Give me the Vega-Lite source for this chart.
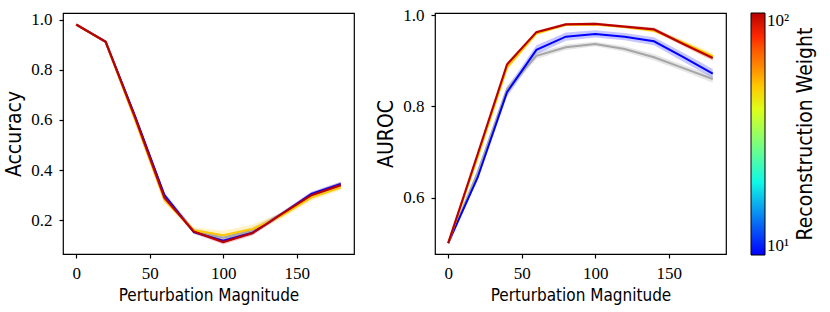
{
  "$schema": "https://vega.github.io/schema/vega-lite/v6.json",
  "padding": {"left": 3, "top": 5, "right": 5, "bottom": 5},
  "background": "white",
  "config": {
    "view": {"stroke": "black", "strokeWidth": 1.2},
    "axis": {"domain": false, "grid": false, "ticks": true, "tickColor": "black", "tickSize": 4, "tickWidth": 1.2,
      "labelColor": "black", "labelFont": "Liberation Serif", "labelFontSize": 17, "labelPadding": 7,
      "titleColor": "black", "titleFont": "DejaVu Sans Condensed", "titleFontSize": 17, "titleFontWeight": "normal"},
    "axisX": {"titlePadding": 6},
    "axisY": {"titlePadding": 6, "titleFontSize": 21},
    "legend": {"orient": "right", "offset": 24, "gradientLength": 242, "gradientThickness": 14,
      "gradientStrokeColor": "black", "gradientStrokeWidth": 1, "labelFont": "Liberation Serif", "labelFontSize": 17,
      "labelColor": "black", "labelOffset": 4, "titleFont": "DejaVu Sans Condensed", "titleFontSize": 21,
      "titleFontWeight": "normal", "titleColor": "black", "titleLimit": 320}
  },
  "datasets": {
    "acc": [
      {"s":"base","w":null,"x":0,"y":0.981,"lo":0.979,"hi":0.983},
      {"s":"base","w":null,"x":20,"y":0.912,"lo":0.909,"hi":0.915},
      {"s":"base","w":null,"x":40,"y":0.615,"lo":0.603,"hi":0.627},
      {"s":"base","w":null,"x":60,"y":0.300,"lo":0.288,"hi":0.312},
      {"s":"base","w":null,"x":80,"y":0.158,"lo":0.148,"hi":0.168},
      {"s":"base","w":null,"x":100,"y":0.130,"lo":0.118,"hi":0.142},
      {"s":"base","w":null,"x":120,"y":0.160,"lo":0.148,"hi":0.172},
      {"s":"base","w":null,"x":140,"y":0.225,"lo":0.215,"hi":0.235},
      {"s":"base","w":null,"x":160,"y":0.300,"lo":0.290,"hi":0.310},
      {"s":"base","w":null,"x":180,"y":0.340,"lo":0.330,"hi":0.350},
      {"s":"w10","w":10,"x":0,"y":0.981,"lo":0.979,"hi":0.983},
      {"s":"w10","w":10,"x":20,"y":0.912,"lo":0.909,"hi":0.915},
      {"s":"w10","w":10,"x":40,"y":0.615,"lo":0.607,"hi":0.623},
      {"s":"w10","w":10,"x":60,"y":0.300,"lo":0.292,"hi":0.308},
      {"s":"w10","w":10,"x":80,"y":0.152,"lo":0.146,"hi":0.158},
      {"s":"w10","w":10,"x":100,"y":0.118,"lo":0.110,"hi":0.126},
      {"s":"w10","w":10,"x":120,"y":0.150,"lo":0.142,"hi":0.158},
      {"s":"w10","w":10,"x":140,"y":0.225,"lo":0.217,"hi":0.233},
      {"s":"w10","w":10,"x":160,"y":0.305,"lo":0.297,"hi":0.313},
      {"s":"w10","w":10,"x":180,"y":0.345,"lo":0.337,"hi":0.353},
      {"s":"w50","w":50,"x":0,"y":0.981,"lo":0.979,"hi":0.983},
      {"s":"w50","w":50,"x":20,"y":0.912,"lo":0.909,"hi":0.915},
      {"s":"w50","w":50,"x":40,"y":0.600,"lo":0.590,"hi":0.610},
      {"s":"w50","w":50,"x":60,"y":0.280,"lo":0.270,"hi":0.290},
      {"s":"w50","w":50,"x":80,"y":0.160,"lo":0.148,"hi":0.172},
      {"s":"w50","w":50,"x":100,"y":0.140,"lo":0.122,"hi":0.158},
      {"s":"w50","w":50,"x":120,"y":0.165,"lo":0.147,"hi":0.183},
      {"s":"w50","w":50,"x":140,"y":0.218,"lo":0.206,"hi":0.230},
      {"s":"w50","w":50,"x":160,"y":0.290,"lo":0.278,"hi":0.302},
      {"s":"w50","w":50,"x":180,"y":0.330,"lo":0.320,"hi":0.340},
      {"s":"w100","w":100,"x":0,"y":0.981,"lo":0.979,"hi":0.983},
      {"s":"w100","w":100,"x":20,"y":0.912,"lo":0.909,"hi":0.915},
      {"s":"w100","w":100,"x":40,"y":0.610,"lo":0.602,"hi":0.618},
      {"s":"w100","w":100,"x":60,"y":0.290,"lo":0.282,"hi":0.298},
      {"s":"w100","w":100,"x":80,"y":0.155,"lo":0.147,"hi":0.163},
      {"s":"w100","w":100,"x":100,"y":0.113,"lo":0.103,"hi":0.123},
      {"s":"w100","w":100,"x":120,"y":0.149,"lo":0.139,"hi":0.159},
      {"s":"w100","w":100,"x":140,"y":0.225,"lo":0.217,"hi":0.233},
      {"s":"w100","w":100,"x":160,"y":0.300,"lo":0.290,"hi":0.310},
      {"s":"w100","w":100,"x":180,"y":0.340,"lo":0.328,"hi":0.352}
    ],
    "auc": [
      {"s":"base","w":null,"x":0,"y":0.500,"lo":0.499,"hi":0.501},
      {"s":"base","w":null,"x":20,"y":0.655,"lo":0.649,"hi":0.661},
      {"s":"base","w":null,"x":40,"y":0.838,"lo":0.830,"hi":0.846},
      {"s":"base","w":null,"x":60,"y":0.911,"lo":0.904,"hi":0.918},
      {"s":"base","w":null,"x":80,"y":0.930,"lo":0.924,"hi":0.936},
      {"s":"base","w":null,"x":100,"y":0.937,"lo":0.932,"hi":0.942},
      {"s":"base","w":null,"x":120,"y":0.926,"lo":0.920,"hi":0.932},
      {"s":"base","w":null,"x":140,"y":0.908,"lo":0.901,"hi":0.915},
      {"s":"base","w":null,"x":160,"y":0.884,"lo":0.877,"hi":0.891},
      {"s":"base","w":null,"x":180,"y":0.860,"lo":0.852,"hi":0.868},
      {"s":"w10","w":10,"x":0,"y":0.500,"lo":0.499,"hi":0.501},
      {"s":"w10","w":10,"x":20,"y":0.644,"lo":0.638,"hi":0.650},
      {"s":"w10","w":10,"x":40,"y":0.831,"lo":0.821,"hi":0.841},
      {"s":"w10","w":10,"x":60,"y":0.924,"lo":0.914,"hi":0.934},
      {"s":"w10","w":10,"x":80,"y":0.953,"lo":0.944,"hi":0.962},
      {"s":"w10","w":10,"x":100,"y":0.959,"lo":0.951,"hi":0.967},
      {"s":"w10","w":10,"x":120,"y":0.953,"lo":0.945,"hi":0.961},
      {"s":"w10","w":10,"x":140,"y":0.943,"lo":0.934,"hi":0.952},
      {"s":"w10","w":10,"x":160,"y":0.908,"lo":0.898,"hi":0.918},
      {"s":"w10","w":10,"x":180,"y":0.872,"lo":0.862,"hi":0.882},
      {"s":"w50","w":50,"x":0,"y":0.500,"lo":0.499,"hi":0.501},
      {"s":"w50","w":50,"x":20,"y":0.688,"lo":0.684,"hi":0.692},
      {"s":"w50","w":50,"x":40,"y":0.885,"lo":0.879,"hi":0.891},
      {"s":"w50","w":50,"x":60,"y":0.960,"lo":0.956,"hi":0.964},
      {"s":"w50","w":50,"x":80,"y":0.979,"lo":0.976,"hi":0.982},
      {"s":"w50","w":50,"x":100,"y":0.980,"lo":0.977,"hi":0.983},
      {"s":"w50","w":50,"x":120,"y":0.974,"lo":0.971,"hi":0.977},
      {"s":"w50","w":50,"x":140,"y":0.966,"lo":0.962,"hi":0.970},
      {"s":"w50","w":50,"x":160,"y":0.940,"lo":0.934,"hi":0.946},
      {"s":"w50","w":50,"x":180,"y":0.910,"lo":0.902,"hi":0.918},
      {"s":"w100","w":100,"x":0,"y":0.500,"lo":0.499,"hi":0.501},
      {"s":"w100","w":100,"x":20,"y":0.695,"lo":0.691,"hi":0.699},
      {"s":"w100","w":100,"x":40,"y":0.892,"lo":0.887,"hi":0.897},
      {"s":"w100","w":100,"x":60,"y":0.963,"lo":0.960,"hi":0.966},
      {"s":"w100","w":100,"x":80,"y":0.980,"lo":0.977,"hi":0.983},
      {"s":"w100","w":100,"x":100,"y":0.981,"lo":0.978,"hi":0.984},
      {"s":"w100","w":100,"x":120,"y":0.975,"lo":0.972,"hi":0.978},
      {"s":"w100","w":100,"x":140,"y":0.969,"lo":0.965,"hi":0.973},
      {"s":"w100","w":100,"x":160,"y":0.937,"lo":0.932,"hi":0.942},
      {"s":"w100","w":100,"x":180,"y":0.906,"lo":0.900,"hi":0.912}
    ]
  },
  "spacing": 20,
  "resolve": {"scale": {"color": "shared", "fill": "shared"}, "legend": {"color": "shared", "fill": "shared"}},
  "hconcat": [
    {
      "width": 291, "height": 241,
      "data": {"name": "acc"},
      "encoding": {
        "x": {"field": "x", "type": "quantitative", "title": "Perturbation Magnitude",
          "scale": {"domain": [-9, 189], "nice": false, "zero": false},
          "axis": {"values": [0, 50, 100, 150]}}
      },
      "layer": [
        {"transform": [{"filter": "isValid(datum.w)"}],
         "mark": {"type": "area", "opacity": 0.22},
         "encoding": {
           "y": {"field": "lo", "type": "quantitative", "title": "Accuracy",
             "scale": {"domain": [0.065, 1.027], "nice": false, "zero": false},
             "axis": {"values": [0.2, 0.4, 0.6, 0.8, 1.0], "format": ".1f"}},
           "y2": {"field": "hi"},
           "detail": {"field": "s", "type": "nominal"},
           "fill": {"field": "w", "type": "quantitative", "legend": null,
             "scale": {"type": "log", "domain": [9.999, 100.001], "range": ["#0000ff","#0050ff","#00a4ff","#10f9e7","#54ffa3","#98ff5f","#ddff1a","#ffc600","#ff7700","#ff2900","#b90000"]}}
         }},
        {"transform": [{"filter": "datum.s == 'base'"}],
         "mark": {"type": "area", "color": "#9a9a9a", "opacity": 0.25},
         "encoding": {"y": {"field": "lo", "type": "quantitative", "title": "Accuracy"}, "y2": {"field": "hi"}}},
        {"transform": [{"filter": "datum.s == 'base'"}],
         "mark": {"type": "line", "color": "#a6a6a6", "strokeWidth": 2},
         "encoding": {"y": {"field": "y", "type": "quantitative", "title": "Accuracy"}}},
        {"transform": [{"filter": "datum.s == 'w10'"}],
         "mark": {"type": "line", "strokeWidth": 2},
         "encoding": {"y": {"field": "y", "type": "quantitative", "title": "Accuracy"},
           "color": {"field": "w", "type": "quantitative",
             "scale": {"type": "log", "domain": [10, 100], "range": ["#0000ff","#0050ff","#00a4ff","#10f9e7","#54ffa3","#98ff5f","#ddff1a","#ffc600","#ff7700","#ff2900","#b90000"]},
             "legend": {"type": "gradient", "direction": "vertical", "title": "Reconstruction Weight", "values": [10, 100],
               "labelExpr": "datum.value >= 100 ? '10²' : '10¹'",
               "titleOrient": "right", "titleAnchor": "middle", "titlePadding": 6,
               "encoding": {"title": {"angle": {"value": 270}, "align": {"value": "center"}, "baseline": {"value": "top"}}}}}}},
        {"transform": [{"filter": "datum.s == 'w50'"}],
         "mark": {"type": "line", "strokeWidth": 2},
         "encoding": {"y": {"field": "y", "type": "quantitative", "title": "Accuracy"}, "color": {"field": "w", "type": "quantitative"}}},
        {"transform": [{"filter": "datum.s == 'w100'"}],
         "mark": {"type": "line", "strokeWidth": 2.2},
         "encoding": {"y": {"field": "y", "type": "quantitative", "title": "Accuracy"}, "color": {"field": "w", "type": "quantitative"}}}
      ]
    },
    {
      "width": 291, "height": 241,
      "data": {"name": "auc"},
      "encoding": {
        "x": {"field": "x", "type": "quantitative", "title": "Perturbation Magnitude",
          "scale": {"domain": [-9, 189], "nice": false, "zero": false},
          "axis": {"values": [0, 50, 100, 150]}}
      },
      "layer": [
        {"transform": [{"filter": "isValid(datum.w)"}],
         "mark": {"type": "area", "opacity": 0.22},
         "encoding": {
           "y": {"field": "lo", "type": "quantitative", "title": "AUROC",
             "scale": {"domain": [0.476, 1.005], "nice": false, "zero": false},
             "axis": {"values": [0.6, 0.8, 1.0], "format": ".1f"}},
           "y2": {"field": "hi"},
           "detail": {"field": "s", "type": "nominal"},
           "fill": {"field": "w", "type": "quantitative", "legend": null}
         }},
        {"transform": [{"filter": "datum.s == 'base'"}],
         "mark": {"type": "area", "color": "#9a9a9a", "opacity": 0.25},
         "encoding": {"y": {"field": "lo", "type": "quantitative", "title": "AUROC"}, "y2": {"field": "hi"}}},
        {"transform": [{"filter": "datum.s == 'base'"}],
         "mark": {"type": "line", "color": "#a6a6a6", "strokeWidth": 2},
         "encoding": {"y": {"field": "y", "type": "quantitative", "title": "AUROC"}}},
        {"transform": [{"filter": "datum.s == 'w10'"}],
         "mark": {"type": "line", "strokeWidth": 2},
         "encoding": {"y": {"field": "y", "type": "quantitative", "title": "AUROC"}, "color": {"field": "w", "type": "quantitative"}}},
        {"transform": [{"filter": "datum.s == 'w50'"}],
         "mark": {"type": "line", "strokeWidth": 2},
         "encoding": {"y": {"field": "y", "type": "quantitative", "title": "AUROC"}, "color": {"field": "w", "type": "quantitative"}}},
        {"transform": [{"filter": "datum.s == 'w100'"}],
         "mark": {"type": "line", "strokeWidth": 2.2},
         "encoding": {"y": {"field": "y", "type": "quantitative", "title": "AUROC"}, "color": {"field": "w", "type": "quantitative"}}}
      ]
    }
  ]
}
